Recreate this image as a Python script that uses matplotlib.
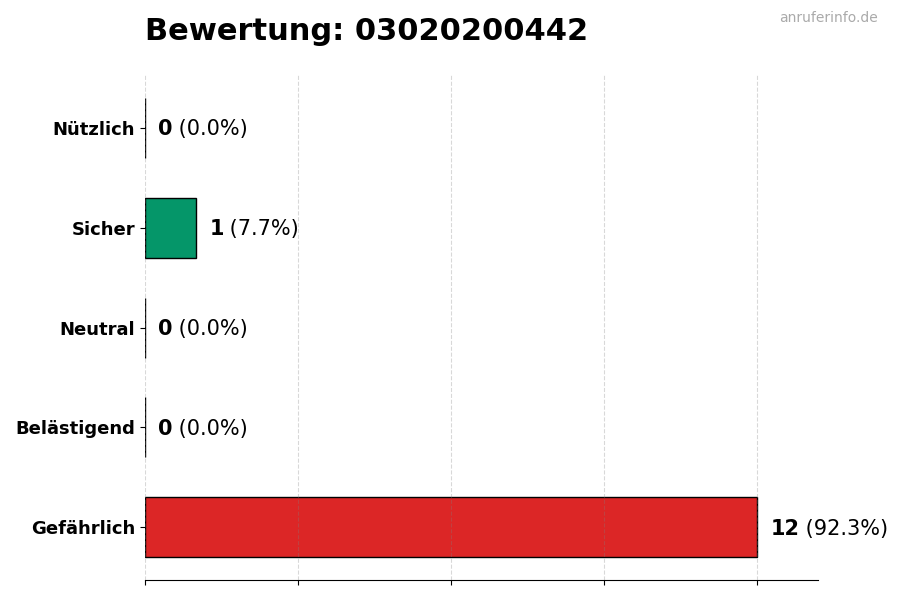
import matplotlib
matplotlib.use("Agg")
import matplotlib.pyplot as plt

categories = ["Nützlich", "Sicher", "Neutral", "Belästigend", "Gefährlich"]
counts = [0, 1, 0, 0, 12]
colors = ["#22c55e", "#059669", "#9ca3af", "#f59e0b", "#dc2626"]
title = "Bewertung: 03020200442"

total = sum(counts)

fig = plt.figure(figsize=(9, 6), dpi=100)
ax = fig.add_axes([0.161, 0.033, 0.748, 0.842])

ypos = list(range(len(categories)))[::-1]
ax.barh(ypos, counts, height=0.6, color=colors, edgecolor="black", linewidth=1)

ax.set_yticks(ypos)
ax.set_yticklabels(categories, fontsize=13, fontweight="bold")
ax.set_xlim(0, max(counts) * 1.1)
ax.set_xticks([0, 3, 6, 9, 12])
ax.set_xticklabels([])
ax.grid(axis="x", linestyle="--", color="gray", alpha=0.3)
ax.set_axisbelow(False)
for s in ["top", "right", "left"]:
    ax.spines[s].set_visible(False)

fig.canvas.draw()
renderer = fig.canvas.get_renderer()
for y, c in zip(ypos, counts):
    pct = c / total * 100
    t1 = ax.annotate(str(c), (c, y), xytext=(9.7, -1), textcoords="offset points",
                     ha="left", va="center", fontsize=15, fontweight="bold")
    bb = t1.get_window_extent(renderer)
    x2, _ = ax.transData.inverted().transform((bb.x1, 0))
    ax.annotate(f" ({pct:.1f}%)", (x2, y), xytext=(-0.4, -1), textcoords="offset points",
                ha="left", va="center", fontsize=15)

fig.text(0.161, 0.948, title, fontsize=22, fontweight="bold", ha="left", va="center")
fig.text(0.975, 0.97, "anruferinfo.de", fontsize=10, color="#aaaaaa", ha="right", va="center")

fig.savefig("out.png", dpi=100)
